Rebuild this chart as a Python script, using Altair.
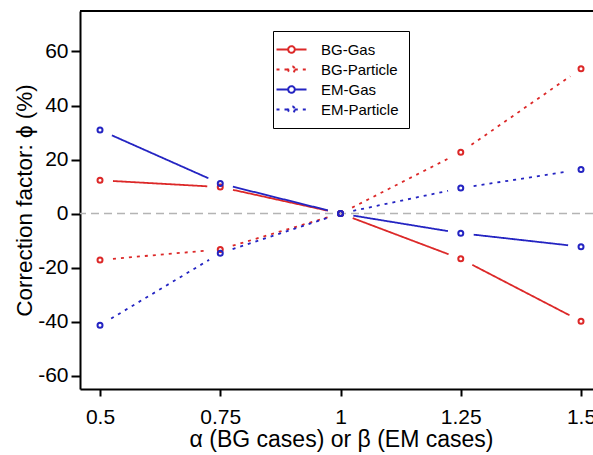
import math
import altair as alt
import pandas as pd

# ---- data ----
alphas = [0.5, 0.75, 1.0, 1.25, 1.5]
series_names = ["BG-Gas", "BG-Particle", "EM-Gas", "EM-Particle"]
bg_gas = [12.3, 9.8, 0.0, -16.8, -39.9]
bg_particle = [-17.2, -13.3, 0.0, 22.7, 53.6]
em_gas = [30.9, 11.1, 0.0, -7.3, -12.3]
em_particle = [-41.4, -14.7, 0.0, 9.4, 16.3]
x_ticks = [0.5, 0.75, 1.0, 1.25, 1.5]
y_ticks = [-60, -40, -20, 0, 20, 40, 60]

# ---- styles ----
RED = "#dc2828"
BLUE = "#2424c2"
series_colors = [RED, RED, BLUE, BLUE]
series_dash = [[1, 0], [3, 5], [1, 0], [3, 5]]
FONT = "Liberation Sans"
GAP_PX = 13  # lines stop this far short of each marker, as in the reference

W, H = 513, 378
X_DOMAIN = [0.4584, 1.5249]
Y_DOMAIN = [-65, 75]
px_x = W / (X_DOMAIN[1] - X_DOMAIN[0])
px_y = H / (Y_DOMAIN[1] - Y_DOMAIN[0])

all_vals = [bg_gas, bg_particle, em_gas, em_particle]
pts_rows, seg_rows = [], []
for name, vals in zip(series_names, all_vals):
    for a, v in zip(alphas, vals):
        pts_rows.append({"x": a, "phi": v, "series": name})
    for i in range(len(alphas) - 1):
        x0, y0, x1, y1 = alphas[i], vals[i], alphas[i + 1], vals[i + 1]
        length = math.hypot((x1 - x0) * px_x, (y1 - y0) * px_y)
        t = GAP_PX / length
        seg_rows.append({
            "x": x0 + (x1 - x0) * t, "phi": y0 + (y1 - y0) * t,
            "x_end": x1 - (x1 - x0) * t, "phi_end": y1 - (y1 - y0) * t,
            "series": name,
        })
pts = pd.DataFrame(pts_rows)
segs = pd.DataFrame(seg_rows)

x_scale = alt.Scale(domain=X_DOMAIN, nice=False, zero=False)
y_scale = alt.Scale(domain=Y_DOMAIN, nice=False, zero=False)

x_axis = alt.Axis(
    values=x_ticks, labelExpr="'' + datum.value", title="α (BG cases) or β (EM cases)",
    tickSize=7, labelPadding=10, labelFlush=False, labelOverlap=False,
    titleX=261, titleY=57, titleBaseline="alphabetic", titleAlign="center",
    titleFontSize=23,
)
y_axis = alt.Axis(
    values=y_ticks, labelExpr="'' + datum.value", title="Correction factor: ϕ (%)",
    tickSize=9, labelPadding=3, labelOverlap=False,
    titleX=-49, titleY=189, titleBaseline="alphabetic", titleAlign="center",
    titleFontSize=22.5,
)

legend_path = "M-2,0L-0.44,0M0.44,0L2,0M0.44,0A0.44,0.44,0,1,1,-0.44,0A0.44,0.44,0,1,1,0.44,0"
legend = alt.Legend(
    orient="none", legendX=193, legendY=20, title=None,
    symbolType=legend_path, symbolSize=225, symbolStrokeWidth=2,
    symbolFillColor="transparent",
    labelFont=FONT, labelFontSize=15, labelColor="black", labelOffset=21,
    padding=10, rowPadding=3, strokeColor="black", fillColor="white",
)

color_enc = alt.Color("series:N", scale=alt.Scale(domain=series_names, range=series_colors), legend=legend)
dash_enc = alt.StrokeDash("series:N", scale=alt.Scale(domain=series_names, range=series_dash), legend=legend)

x_enc = alt.X("x:Q", scale=x_scale, axis=x_axis)
y_enc = alt.Y("phi:Q", scale=y_scale, axis=y_axis)

lines = alt.Chart(segs).mark_rule(strokeWidth=1.8).encode(
    x=x_enc, y=y_enc, x2="x_end:Q", y2="phi_end:Q", color=color_enc, strokeDash=dash_enc
)
zero = alt.Chart(pd.DataFrame({"z": [0]})).mark_rule(
    color="#b4b4b4", strokeWidth=1.5, strokeDash=[8, 5]
).encode(y=alt.Y("z:Q", scale=y_scale, axis=y_axis))
points = alt.Chart(pts).mark_point(shape="circle", filled=False, size=25, strokeWidth=2, opacity=1).encode(
    x=x_enc, y=y_enc, color=color_enc
)
top_border = alt.Chart(pd.DataFrame({"t": [0]})).mark_rule(color="black", strokeWidth=2).encode(
    x=alt.value(0), x2=alt.value(W), y=alt.value(0)
)

chart = (
    alt.layer(zero, lines, points, top_border)
    .properties(
        width=W, height=H,
        autosize=alt.AutoSizeParams(type="none"),
        padding={"left": 80, "top": 11, "right": 0, "bottom": 66},
        background="white",
    )
    .configure_view(stroke=None)
    .configure_axis(
        grid=False, domainColor="black", domainWidth=2, tickColor="black", tickWidth=2,
        labelFont=FONT, labelFontSize=21, labelColor="black",
        titleFont=FONT, titleFontWeight="normal", titleColor="black",
    )
)

chart.save("out.html", embed_options={"renderer": "svg", "actions": False})
